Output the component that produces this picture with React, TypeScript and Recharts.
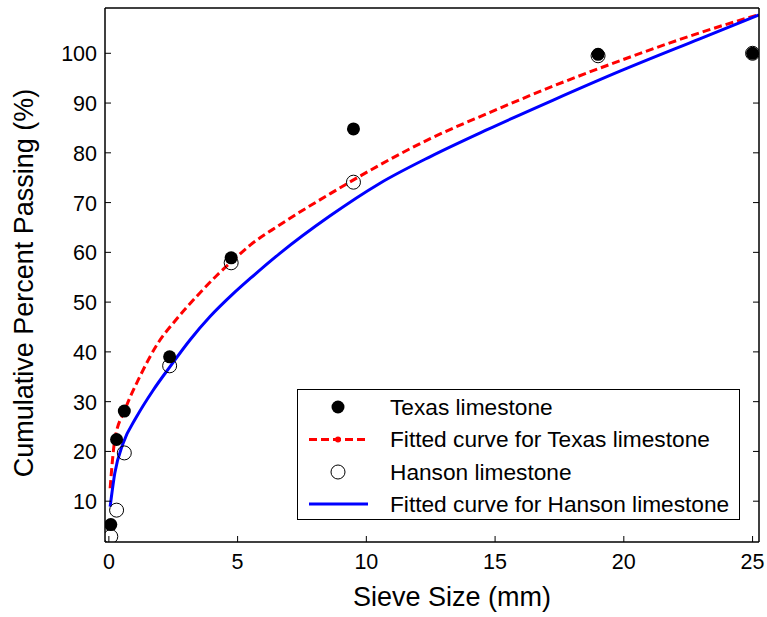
import React from 'react';
import { ComposedChart, Line, Scatter, XAxis, YAxis, Legend, Label } from 'recharts';

// measured points
const sieveSizes = [0.075, 0.3, 0.6, 2.36, 4.75, 9.5, 19, 25];
const texasPassing = [5.3, 22.4, 28.1, 39.0, 58.9, 84.8, 99.8, 100];
const hansonPassing = [2.9, 8.2, 19.7, 37.2, 57.9, 74.1, 99.5, 100];

// fitted curves
const texasFitX = [0.05, 0.23, 0.62, 1.2, 1.9, 2.6, 3.4, 4.2, 4.8, 5.5, 6.6, 8.6, 10.5, 12.5, 14.7, 17.3, 19.9, 23.0, 25.25];
const texasFitY = [12.6, 22.3, 28.3, 35.0, 41.7, 46.4, 51.1, 55.4, 58.3, 61.5, 65.4, 71.8, 77.5, 82.9, 87.9, 93.5, 98.6, 104.2, 107.8];
const hansonFitX = [0.05, 0.23, 0.55, 1.07, 1.72, 2.37, 3.15, 3.93, 4.83, 5.5, 6.64, 8.58, 10.5, 12.47, 14.67, 17.26, 19.85, 22.95, 25.25];
const hansonFitY = [8.9, 15.6, 21.6, 26.9, 32.3, 37.0, 42.4, 47.1, 51.7, 54.8, 59.8, 67.3, 73.8, 79.2, 84.6, 90.6, 96.4, 102.9, 107.7];

const xTicks = [0, 5, 10, 15, 20, 25];
const yTicks = [10, 20, 30, 40, 50, 60, 70, 80, 90, 100];

const texasPts = sieveSizes.map((x, i) => ({ x, y: texasPassing[i] }));
const hansonPts = sieveSizes.map((x, i) => ({ x, y: hansonPassing[i] }));
const texasFit = texasFitX.map((x, i) => ({ x, y: texasFitY[i] }));
const hansonFit = hansonFitX.map((x, i) => ({ x, y: hansonFitY[i] }));

const FONT = '"Liberation Sans", Arial, Helvetica, sans-serif';
const TICK = 6;

const BottomTick = ({ x, y, payload }: any) => (
  <g>
    <line x1={x} x2={x} y1={y} y2={y - TICK} stroke="#000" />
    <text x={x} y={y + 27} textAnchor="middle" fontSize={21.5} fontFamily={FONT} fill="#000">
      {payload.value}
    </text>
  </g>
);

const LeftTick = ({ x, y, payload }: any) => (
  <g>
    <line x1={x} x2={x + TICK} y1={y} y2={y} stroke="#000" />
    <text x={x - 8} y={y + 8} textAnchor="end" fontSize={21.5} fontFamily={FONT} fill="#000">
      {payload.value}
    </text>
  </g>
);

const TopTick = ({ x, y }: any) => <line x1={x} x2={x} y1={y} y2={y + TICK} stroke="#000" />;
const RightTick = ({ x, y }: any) => <line x1={x} x2={x - TICK} y1={y} y2={y} stroke="#000" />;

const FilledDot = ({ cx, cy }: any) => <circle cx={cx} cy={cy} r={6.5} fill="#000" />;
const OpenDot = ({ cx, cy }: any) => <circle cx={cx} cy={cy} r={7} fill="none" stroke="#000" strokeWidth={1} />;

const legendRows = [
  'Texas limestone',
  'Fitted curve for Texas limestone',
  'Hanson limestone',
  'Fitted curve for Hanson limestone',
];

const LegendBox = () => (
  <div
    style={{
      width: 441,
      height: 129,
      border: '1px solid #000',
      background: '#fff',
      position: 'relative',
      fontFamily: FONT,
      fontSize: 22.7,
      color: '#000',
    }}
  >
    <svg width={80} height={129} style={{ position: 'absolute', left: 0, top: 0 }}>
      <circle cx={40} cy={17} r={6.5} fill="#000" />
      <line x1={11} x2={70} y1={49.5} y2={49.5} stroke="#f00" strokeWidth={3} strokeDasharray="8 4" />
      <circle cx={40} cy={49.5} r={3} fill="#f00" />
      <circle cx={40} cy={82} r={7} fill="none" stroke="#000" />
      <line x1={11} x2={70} y1={114} y2={114} stroke="#00f" strokeWidth={3} />
    </svg>
    {legendRows.map((t, i) => (
      <div
        key={t}
        style={{
          position: 'absolute',
          left: 92,
          top: 1 + i * 32.3,
          height: 32,
          lineHeight: '32px',
          whiteSpace: 'nowrap',
        }}
      >
        {t}
      </div>
    ))}
  </div>
);

export default function App() {
  return (
    <div style={{ position: 'absolute', left: 0, top: 0, width: 767, height: 617, background: '#fff' }}>
      <ComposedChart width={767} height={617} margin={{ top: 0, right: 0, bottom: 0, left: 0 }}>
        <XAxis
          xAxisId="b"
          dataKey="x"
          type="number"
          domain={[-0.15, 25.25]}
          allowDataOverflow
          ticks={xTicks}
          interval={0}
          height={75}
          tickSize={0}
          tickMargin={0}
          tickLine={false}
          tick={<BottomTick />}
          axisLine={{ stroke: '#000', strokeWidth: 1.5 }}
        >
          <Label
            content={() => (
              <text x={452} y={606} textAnchor="middle" fontSize={27} fontFamily={FONT} fill="#000">
                Sieve Size (mm)
              </text>
            )}
          />
        </XAxis>
        <XAxis
          xAxisId="t"
          orientation="top"
          type="number"
          domain={[-0.15, 25.25]}
          allowDataOverflow
          ticks={xTicks}
          interval={0}
          height={8}
          tickSize={0}
          tickMargin={0}
          tickLine={false}
          tick={<TopTick />}
          axisLine={{ stroke: '#000', strokeWidth: 1.5 }}
        />
        <YAxis
          yAxisId="l"
          dataKey="y"
          type="number"
          domain={[1.8, 109.1]}
          allowDataOverflow
          ticks={yTicks}
          interval={0}
          width={105}
          tickSize={0}
          tickMargin={0}
          tickLine={false}
          tick={<LeftTick />}
          axisLine={{ stroke: '#000', strokeWidth: 1.5 }}
        >
          <Label
            content={() => (
              <text
                x={33}
                y={283}
                transform="rotate(-90, 33, 283)"
                textAnchor="middle"
                fontSize={27}
                fontFamily={FONT}
                fill="#000"
              >
                Cumulative Percent Passing (%)
              </text>
            )}
          />
        </YAxis>
        <YAxis
          yAxisId="r"
          orientation="right"
          type="number"
          domain={[1.8, 109.1]}
          allowDataOverflow
          ticks={yTicks}
          interval={0}
          width={8}
          tickSize={0}
          tickMargin={0}
          tickLine={false}
          tick={<RightTick />}
          axisLine={{ stroke: '#000', strokeWidth: 1.5 }}
        />
        <Scatter
          xAxisId="b"
          yAxisId="l"
          data={texasPts}
          dataKey="y"
          shape={<FilledDot />}
          isAnimationActive={false}
        />
        <Line
          xAxisId="b"
          yAxisId="l"
          data={texasFit}
          dataKey="y"
          type="monotone"
          stroke="#ff0000"
          strokeWidth={3}
          strokeDasharray="8 4"
          dot={false}
          activeDot={false}
          isAnimationActive={false}
        />
        <Scatter
          xAxisId="b"
          yAxisId="l"
          data={hansonPts}
          dataKey="y"
          shape={<OpenDot />}
          isAnimationActive={false}
        />
        <Line
          xAxisId="b"
          yAxisId="l"
          data={hansonFit}
          dataKey="y"
          type="monotone"
          stroke="#0000ff"
          strokeWidth={3}
          dot={false}
          activeDot={false}
          isAnimationActive={false}
        />
        <Legend
          layout="vertical"
          align="center"
          verticalAlign="middle"
          content={() => <LegendBox />}
          wrapperStyle={{ left: 297, top: 389, width: 443, height: 131 }}
        />
      </ComposedChart>
    </div>
  );
}
